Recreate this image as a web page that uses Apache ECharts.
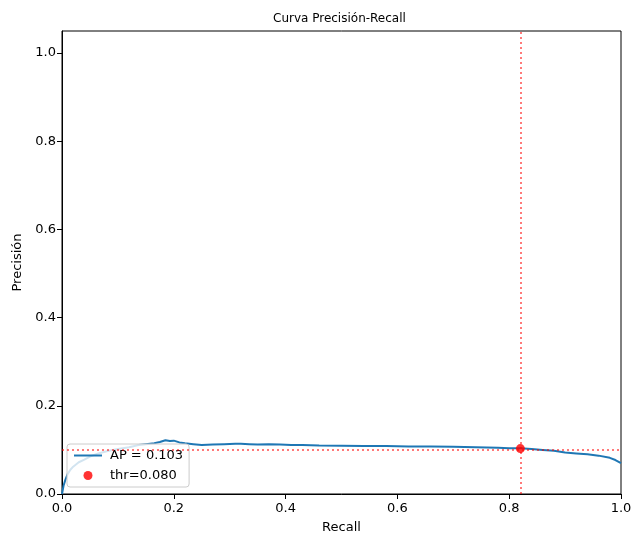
<!DOCTYPE html>
<html>
<head>
<meta charset="utf-8">
<script src="https://cdn.jsdelivr.net/npm/echarts@6/dist/echarts.min.js"></script>
<style>
  html, body { margin: 0; padding: 0; background: #fff; }
  #chart { width: 631px; height: 536px; }
</style>
</head>
<body>
<div id="chart"></div>
<script>
// Precision-recall curve points
const recall = [0, 0.003, 0.006, 0.01, 0.015, 0.02, 0.03, 0.04, 0.05, 0.065, 0.08, 0.1, 0.12, 0.137, 0.15, 0.165, 0.175, 0.185, 0.193, 0.2, 0.21, 0.22, 0.235, 0.25, 0.27, 0.29, 0.31, 0.32, 0.335, 0.35, 0.37, 0.39, 0.41, 0.43, 0.46, 0.5, 0.54, 0.58, 0.62, 0.66, 0.7, 0.74, 0.78, 0.8, 0.82, 0.84, 0.86, 0.88, 0.9, 0.92, 0.94, 0.96, 0.98, 0.99, 1.0];
const precision = [0, 0.02, 0.032, 0.045, 0.055, 0.062, 0.072, 0.078, 0.085, 0.092, 0.097, 0.102, 0.106, 0.111, 0.113, 0.115, 0.118, 0.122, 0.12, 0.121, 0.117, 0.115, 0.113, 0.111, 0.112, 0.113, 0.114, 0.114, 0.113, 0.112, 0.113, 0.112, 0.111, 0.111, 0.110, 0.1095, 0.109, 0.109, 0.108, 0.108, 0.107, 0.106, 0.105, 0.104, 0.1035, 0.102, 0.100, 0.098, 0.094, 0.092, 0.090, 0.087, 0.082, 0.077, 0.070];

// Chosen operating point (threshold 0.080)
const thrRecall = 0.82;
const thrPrecision = 0.103;

const apLabel = 'AP = 0.103';
const thrLabel = 'thr=0.080';

const xTicks = [0, 0.2, 0.4, 0.6, 0.8, 1.0];
const yTicks = [0, 0.2, 0.4, 0.6, 0.8, 1.0];

const FONT = 'DejaVu Sans';
const chart = echarts.init(document.getElementById('chart'), null, { renderer: 'canvas' });

const curve = recall.map((r, i) => [r, precision[i]]);

chart.setOption({
  animation: false,
  backgroundColor: '#ffffff',
  textStyle: { fontFamily: FONT, color: '#000' },
  title: {
    text: 'Curva Precisión-Recall',
    left: 268,
    top: 8,
    textStyle: { fontFamily: FONT, fontSize: 12, fontWeight: 'normal', color: '#000' }
  },
  grid: {
    left: 62, right: 10, top: 31, bottom: 42,
    outerBoundsMode: 'none',
    containLabel: false,
    show: true, borderColor: '#000', borderWidth: 1, backgroundColor: 'transparent'
  },
  xAxis: {
    type: 'value',
    min: xTicks[0], max: xTicks[xTicks.length - 1], interval: 0.2,
    name: 'Recall', nameLocation: 'middle', nameGap: 27,
    nameTextStyle: { fontFamily: FONT, fontSize: 13, color: '#000' },
    axisLine: { show: true, lineStyle: { color: '#000', width: 1 } },
    axisTick: { show: true, inside: false, length: 5, lineStyle: { color: '#000' } },
    axisLabel: { fontFamily: FONT, fontSize: 13, color: '#000', margin: 8,
      formatter: v => v.toFixed(1) },
    splitLine: { show: false }
  },
  yAxis: {
    type: 'value',
    min: yTicks[0], max: 1.05, interval: 0.2,
    name: 'Precisión', nameLocation: 'middle', nameGap: 33, nameRotate: 90,
    nameTextStyle: { fontFamily: FONT, fontSize: 13, color: '#000' },
    axisLine: { show: true, lineStyle: { color: '#000', width: 1 } },
    axisTick: { show: true, inside: false, length: 5, lineStyle: { color: '#000' } },
    axisLabel: { fontFamily: FONT, fontSize: 13, color: '#000', margin: 6, showMaxLabel: false,
      formatter: v => (yTicks.some(t => Math.abs(t - v) < 1e-9) ? v.toFixed(1) : '') },
    splitLine: { show: false }
  },
  legend: {
    orient: 'vertical',
    left: 67, bottom: 49,
    backgroundColor: 'rgba(255,255,255,0.8)',
    borderColor: '#cccccc', borderWidth: 1, borderRadius: 3,
    padding: [5, 6, 5, 6],
    itemWidth: 28, itemHeight: 9, itemGap: 7,
    textStyle: { fontFamily: FONT, fontSize: 13, color: '#000', padding: [0, 0, 0, 3] },
    data: [
      { name: apLabel, itemStyle: { color: 'rgba(0,0,0,0)', borderWidth: 0 } },
      { name: thrLabel }
    ]
  },
  series: [
    {
      name: apLabel,
      type: 'line',
      data: curve,
      symbol: 'none',
      lineStyle: { color: '#1f77b4', width: 2 },
      itemStyle: { color: '#1f77b4' },
      z: 2
    },
    {
      name: thrLabel,
      type: 'scatter',
      data: [[thrRecall, thrPrecision]],
      symbol: 'circle',
      symbolSize: 9,
      itemStyle: { color: 'red' },
      z: 4,
      markLine: {
        silent: true,
        symbol: 'none',
        label: { show: false },
        lineStyle: { color: 'rgba(255,0,0,0.7)', type: [2, 3], width: 1.5 },
        data: [{ xAxis: thrRecall }, { yAxis: thrPrecision }]
      }
    }
  ]
});
</script>
</body>
</html>
